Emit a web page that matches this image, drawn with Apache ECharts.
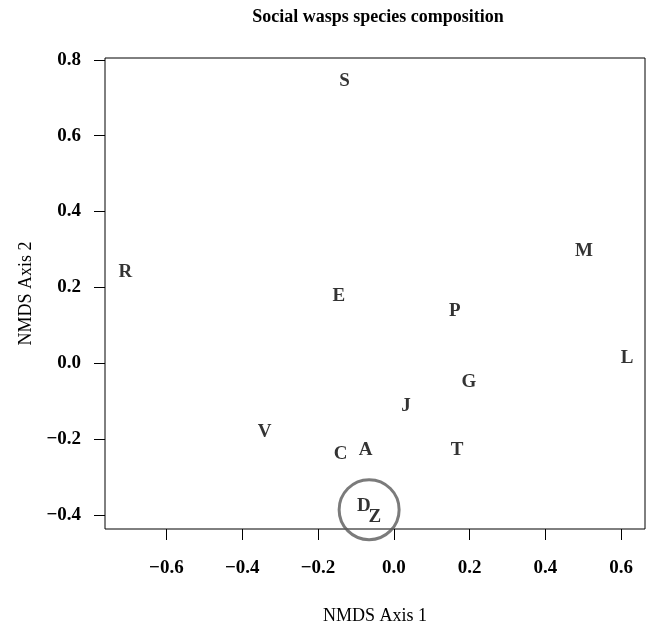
<!DOCTYPE html>
<html>
<head>
<meta charset="UTF-8">
<title>Social wasps species composition</title>
<style>
    html, body { margin: 0; padding: 0; background: #fff; }
    #chart { width: 652px; height: 626px; }
</style>
<script src="https://cdn.jsdelivr.net/npm/echarts@6/dist/echarts.min.js"></script>
</head>
<body>
<div id="chart"></div>
<script>
// site labels and NMDS scores
var sites = ['S', 'R', 'M', 'E', 'P', 'L', 'G', 'J', 'V', 'C', 'A', 'T', 'D', 'Z'];
var axis1 = [-0.130, -0.708, 0.502, -0.145, 0.161, 0.616, 0.198, 0.032, -0.341, -0.140, -0.074, 0.167, -0.079, -0.050];
var axis2 = [0.745, 0.241, 0.296, 0.178, 0.138, 0.014, -0.049, -0.113, -0.181, -0.239, -0.229, -0.229, -0.376, -0.405];
// highlighted group (circle around D and Z)
var circleCenter = [-0.065, -0.386];

var xTicks = [-0.6, -0.4, -0.2, 0.0, 0.2, 0.4, 0.6];
var yTicks = [-0.4, -0.2, 0.0, 0.2, 0.4, 0.6, 0.8];

var serif = '"Liberation Serif", "DejaVu Serif", serif';

function fmt(v) {
    return v.toFixed(1).replace('-', '\u2212');
}

var chart = echarts.init(document.getElementById('chart'));

var points = sites.map(function (s, i) {
    return { name: s, value: [axis1[i], axis2[i]] };
});

chart.setOption({
    animation: false,
    title: {
        text: 'Social wasps species composition',
        left: 373,
        top: 3,
        textAlign: 'center',
        textStyle: { fontFamily: serif, fontSize: 18, fontWeight: 'bold', color: '#000' }
    },
    grid: {
        left: 105, right: 7, top: 58, bottom: 97,
        outerBoundsMode: 'none',
        show: true, borderColor: '#000', borderWidth: 1, backgroundColor: 'transparent'
    },
    xAxis: {
        type: 'value',
        min: -0.762, max: 0.663,
        name: 'NMDS Axis 1',
        nameLocation: 'middle',
        nameGap: 78,
        nameTextStyle: { fontFamily: serif, fontSize: 18, color: '#000' },
        axisLine: { show: false, onZero: false },
        splitLine: { show: false },
        axisTick: { show: true, inside: false, length: 11, customValues: xTicks, lineStyle: { color: '#000' } },
        axisLabel: {
            customValues: xTicks, margin: 30,
            fontFamily: serif, fontSize: 19, fontWeight: 'bold', color: '#000',
            formatter: fmt
        }
    },
    yAxis: {
        type: 'value',
        min: -0.437, max: 0.805,
        name: 'NMDS Axis 2',
        nameLocation: 'middle',
        nameGap: 70,
        nameRotate: 90,
        nameTextStyle: { fontFamily: serif, fontSize: 18, color: '#000' },
        axisLine: { show: false, onZero: false },
        splitLine: { show: false },
        axisTick: { show: true, inside: false, length: 11, customValues: yTicks, lineStyle: { color: '#000' } },
        axisLabel: {
            customValues: yTicks, margin: 24,
            fontFamily: serif, fontSize: 19, fontWeight: 'bold', color: '#000',
            formatter: fmt
        }
    },
    series: [
        {
            type: 'scatter',
            data: points,
            symbolSize: 0,
            label: {
                show: true,
                position: 'inside',
                formatter: '{b}',
                fontFamily: serif, fontSize: 19, fontWeight: 'bold', color: '#000'
            }
        },
        {
            type: 'scatter',
            data: [circleCenter],
            symbol: 'circle',
            symbolSize: 60,
            itemStyle: { color: 'transparent', borderColor: '#5a5a5a', borderWidth: 3 },
            z: 1
        }
    ]
});
</script>
</body>
</html>
